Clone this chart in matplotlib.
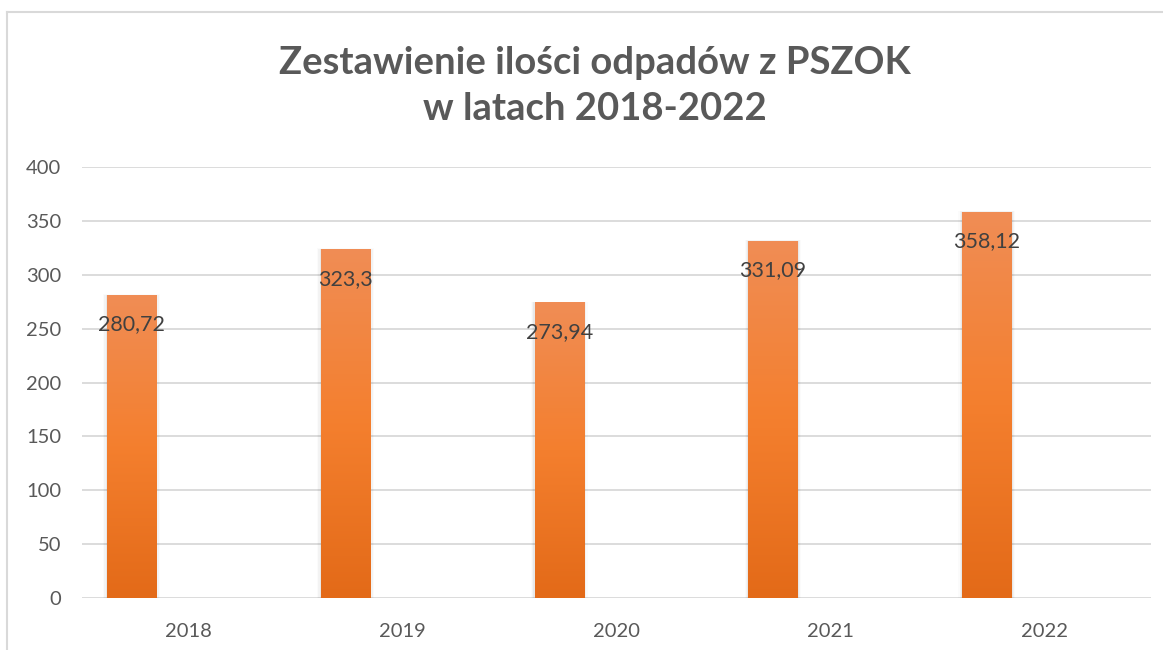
import numpy as np
import matplotlib
matplotlib.use("Agg")
import matplotlib.pyplot as plt
from matplotlib.colors import LinearSegmentedColormap
from matplotlib.patches import Rectangle
from matplotlib.lines import Line2D

years = ["2018", "2019", "2020", "2021", "2022"]
values = [280.72, 323.3, 273.94, 331.09, 358.12]
value_labels = ["280,72", "323,3", "273,94", "331,09", "358,12"]
title = "Zestawienie ilości odpadów z PSZOK\nw latach 2018-2022"

plt.rcParams['font.family'] = ['Lato', 'DejaVu Sans']

fig = plt.figure(figsize=(11.63, 6.5), dpi=100)
ax = fig.add_axes([82/1163, 52/650, (1151-82)/1163, (598-167)/650])

text_col = "#595959"
grid_col = "#D9D9D9"

cmap = LinearSegmentedColormap.from_list(
    "og", [(0.0, "#E36A18"), (0.5, "#F47F2E"), (1.0, "#F08D55")])
grad = np.linspace(0, 1, 256).reshape(-1, 1)

offset = -0.268
width = 0.23
x = np.arange(len(years))
bars = ax.bar(x + offset, values, width=width, color="none", zorder=3)
for b in bars:
    x0, w, h = b.get_x(), b.get_width(), b.get_height()
    # soft shadow
    for k, a in enumerate([0.045, 0.03, 0.015]):
        d = 0.006 * (k + 1)
        ax.add_patch(Rectangle((x0 - d, 0), w + 2 * d, h + 0.4 * (k + 1),
                               facecolor="black", alpha=a, edgecolor="none", zorder=2))
    ax.imshow(grad, cmap=cmap, aspect="auto", origin="lower",
              extent=(x0, x0 + w, 0, h), zorder=3, interpolation="bilinear")

for xi, v, lab in zip(x, values, value_labels):
    ax.annotate(lab, (xi + offset, v), xytext=(0, -29), textcoords="offset pixels",
                ha="center", va="center", fontsize=15.5, color="#404040", zorder=5)

ax.set_xlim(-0.5, len(years) - 0.5)
ax.set_ylim(0, 400)
ax.set_yticks(np.arange(0, 401, 50))
ax.set_xticks(x)
ax.set_xticklabels(years)
ax.yaxis.grid(True, color=grid_col, linewidth=1.3, zorder=0)
ax.set_axisbelow(True)
for s in ax.spines.values():
    s.set_visible(False)
ax.tick_params(axis="both", length=0, labelsize=14.5, colors=text_col)
ax.tick_params(axis="y", pad=15)
ax.tick_params(axis="x", pad=18)

fig.text(595/1163, 1 - 86/650, title, ha="center", va="center",
         fontsize=27.5, fontweight="bold", color=text_col, linespacing=1.4)

# chart frame
fig.add_artist(Line2D([7/1163, 7/1163], [0, 1 - 12/650], transform=fig.transFigure,
                      color=grid_col, linewidth=1.5))
fig.add_artist(Line2D([7/1163, 1], [1 - 12/650, 1 - 12/650], transform=fig.transFigure,
                      color=grid_col, linewidth=1.5))

fig.savefig("out.png", dpi=100)
